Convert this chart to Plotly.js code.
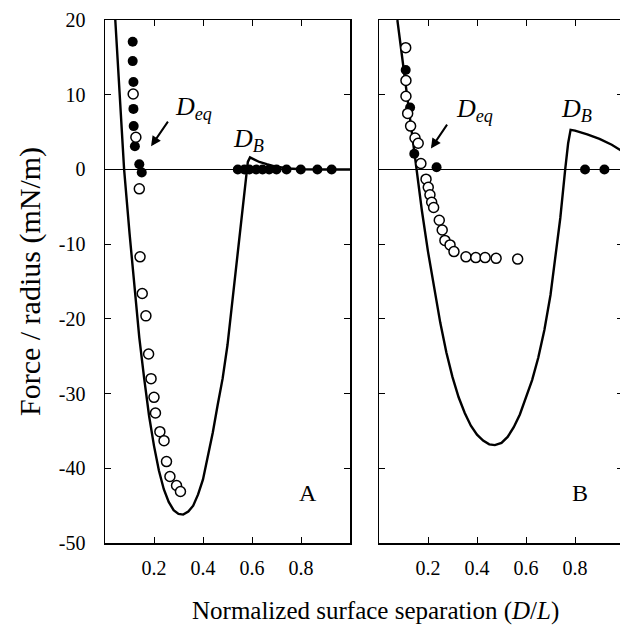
<!DOCTYPE html>
<html>
<head>
<meta charset="utf-8">
<script src="https://cdn.plot.ly/plotly-3.0.1.min.js"></script>
<style>
html,body{margin:0;padding:0;overflow:hidden;background:#fff;width:620px;height:625px;}
#chart{width:623px;height:625px;}
</style>
</head>
<body>
<div id="chart"></div>
<script>
// ---- Panel A data ----
const theoryAx = [0.042,0.06,0.078,0.10,0.12,0.14,0.16,0.18,0.20,0.22,0.24,0.26,0.28,0.30,0.319,0.34,0.36,0.38,0.40,0.42,0.44,0.46,0.48,0.50,0.52,0.54,0.56,0.575,0.583,0.592,0.61,0.63,0.66,0.70,0.75,0.80,0.90,1.0];
const theoryAy = [20,9.5,0,-8.5,-16,-22.5,-28,-33,-37,-40.3,-42.8,-44.5,-45.6,-46.1,-46.2,-45.8,-45.0,-43.5,-41.5,-38.5,-35.2,-31.5,-28.0,-23.5,-17.5,-11.2,-5.0,-0.5,1.0,1.6,1.3,1.0,0.7,0.35,0.12,0.03,0,0];
const filledAx = [0.113,0.113,0.116,0.116,0.117,0.122,0.140,0.150,0.542,0.569,0.589,0.617,0.643,0.670,0.700,0.741,0.799,0.867,0.925];
const filledAy = [17.1,14.5,11.7,8.1,5.8,3.1,0.7,-0.4,0,0,0,0,0,0,0,0,0,0,0];
const openAx = [0.115,0.126,0.140,0.143,0.152,0.167,0.178,0.188,0.200,0.206,0.224,0.241,0.251,0.265,0.292,0.308];
const openAy = [10.1,4.3,-2.6,-11.7,-16.6,-19.6,-24.7,-28.0,-30.5,-32.6,-35.1,-36.3,-39.1,-41.1,-42.3,-43.1];

// ---- Panel B data ----
const theoryBx = [0.075,0.10,0.125,0.15,0.175,0.20,0.225,0.25,0.275,0.30,0.325,0.35,0.375,0.40,0.425,0.45,0.473,0.50,0.525,0.55,0.575,0.60,0.625,0.65,0.675,0.70,0.72,0.74,0.76,0.772,0.782,0.80,0.85,0.90,0.95,1.0];
const theoryBy = [20,13.5,7,0.8,-5.5,-11.0,-16,-20.5,-24.5,-27.8,-30.5,-32.6,-34.3,-35.5,-36.3,-36.8,-36.9,-36.6,-35.8,-34.5,-32.8,-30.6,-28.2,-25.2,-21.5,-16.8,-12.0,-6.5,0,3.5,5.3,5.2,4.7,4.1,3.3,2.3];
const filledBx = [0.109,0.127,0.144,0.235,0.841,0.920];
const filledBy = [13.3,8.3,2.1,0.3,0,0];
const openBx = [0.109,0.110,0.110,0.117,0.129,0.147,0.160,0.171,0.192,0.201,0.208,0.215,0.223,0.246,0.258,0.269,0.290,0.306,0.355,0.395,0.433,0.478,0.566];
const openBy = [16.3,11.9,9.8,7.5,5.8,4.2,3.5,0.8,-1.3,-2.4,-3.4,-4.4,-5.1,-6.8,-8.1,-9.5,-10.1,-11.0,-11.7,-11.8,-11.8,-11.9,-12.0];

// ---- ticks ----
const xTickVals = [0.2,0.4,0.6,0.8];
const xTickText = ['0.2','0.4','0.6','0.8'];
const yTickVals = [-50,-40,-30,-20,-10,0,10,20];
const yTickText = ['-50','-40','-30','-20','-10','0','10','20'];

const FONT = 'Liberation Serif, Times New Roman, serif';

function lineTrace(x,y,xa,ya){
  return {x:x,y:y,xaxis:xa,yaxis:ya,type:'scatter',mode:'lines',
    line:{color:'#000',width:2.4},hoverinfo:'skip',showlegend:false};
}
function markTrace(x,y,xa,ya,filled){
  return {x:x,y:y,xaxis:xa,yaxis:ya,type:'scatter',mode:'markers',showlegend:false,
    marker:{symbol:'circle',size:10,color:filled?'#000':'#fff',line:{color:'#000',width:filled?0:1.5}}};
}

const data = [
  lineTrace(theoryAx,theoryAy,'x','y'),
  markTrace(filledAx,filledAy,'x','y',true),
  markTrace(openAx,openAy,'x','y',false),
  lineTrace(theoryBx,theoryBy,'x2','y2'),
  markTrace(filledBx,filledBy,'x2','y2',true),
  markTrace(openBx,openBy,'x2','y2',false)
];

const W = 623;
function xax(domain,range){
  return {domain:domain,range:range,showgrid:false,zeroline:false,showline:true,linecolor:'#000',linewidth:1.5,
    mirror:'ticks',ticks:'inside',ticklen:6,tickwidth:1,tickcolor:'#000',
    tickmode:'array',tickvals:xTickVals,ticktext:xTickText,
    tickfont:{family:FONT,size:20,color:'#000'},ticklabelstandoff:6};
}
function yax(anchor,showLabels){
  return {domain:[0,1],range:[-50,20],anchor:anchor,showgrid:false,
    zeroline:true,zerolinecolor:'#000',zerolinewidth:1,
    showline:true,linecolor:'#000',linewidth:1.5,mirror:'ticks',
    ticks:'inside',ticklen:6,tickwidth:1,tickcolor:'#000',
    tickmode:'array',tickvals:yTickVals,ticktext:yTickText,showticklabels:showLabels,
    tickfont:{family:FONT,size:20,color:'#000'},ticklabelstandoff:14};
}

const layout = {
  width:W,height:625,
  margin:{l:0,r:0,t:20,b:82},
  paper_bgcolor:'#fff',plot_bgcolor:'#fff',
  showlegend:false,
  xaxis:Object.assign(xax([105/W,350/W],[0,1]),{anchor:'y'}),
  xaxis2:Object.assign(xax([379/W,1],[0,(W-379)/245]),{anchor:'y2'}),
  yaxis:Object.assign(yax('x',true),{title:{text:'Force / radius (mN/m)',font:{family:FONT,size:30,color:'#000'},standoff:9}}),
  yaxis2:yax('x2',false),
  annotations:[
    {xref:'paper',yref:'paper',x:375/W,y:-0.13,yanchor:'middle',xanchor:'center',showarrow:false,
      text:'Normalized surface separation (<i>D</i>/<i>L</i>)',font:{family:FONT,size:25,color:'#000'}},
    {xref:'x',yref:'y',x:0.36,y:8.2,showarrow:false,text:'<i>D<sub>eq</sub></i>',font:{family:FONT,size:26,color:'#000'}},
    {xref:'x',yref:'y',x:0.188,y:3.1,ax:0.261,ay:6.6,axref:'x',ayref:'y',text:'',showarrow:true,arrowhead:2,arrowsize:1,arrowwidth:2,arrowcolor:'#000'},
    {xref:'x',yref:'y',x:0.585,y:4.0,showarrow:false,text:'<i>D<sub>B</sub></i>',font:{family:FONT,size:26,color:'#000'}},
    {xref:'x',yref:'y',x:0.829,y:-43.3,showarrow:false,text:'A',font:{family:FONT,size:24,color:'#000'}},
    {xref:'x2',yref:'y2',x:0.39,y:7.9,showarrow:false,text:'<i>D<sub>eq</sub></i>',font:{family:FONT,size:26,color:'#000'}},
    {xref:'x2',yref:'y2',x:0.212,y:2.8,ax:0.282,ay:6.2,axref:'x2',ayref:'y2',text:'',showarrow:true,arrowhead:2,arrowsize:1,arrowwidth:2,arrowcolor:'#000'},
    {xref:'x2',yref:'y2',x:0.805,y:8.0,showarrow:false,text:'<i>D<sub>B</sub></i>',font:{family:FONT,size:26,color:'#000'}},
    {xref:'x2',yref:'y2',x:0.82,y:-43.3,showarrow:false,text:'B',font:{family:FONT,size:24,color:'#000'}}
  ]
};

Plotly.newPlot('chart',data,layout,{staticPlot:true,displayModeBar:false});
</script>
</body>
</html>
